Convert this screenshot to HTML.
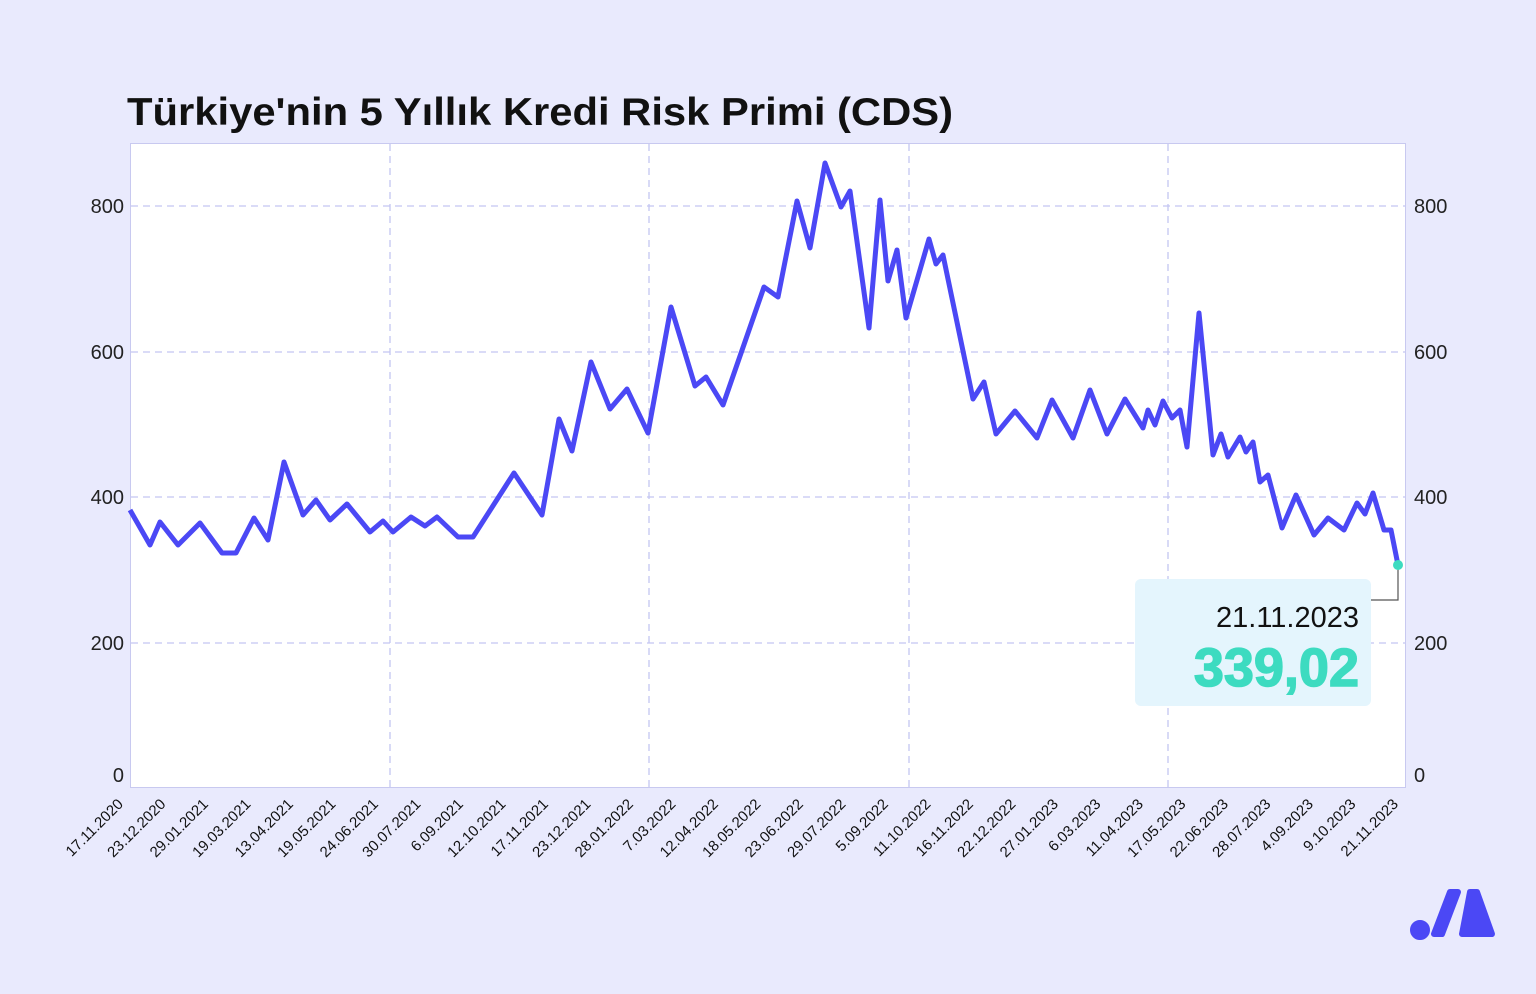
<!DOCTYPE html>
<html><head><meta charset="utf-8"><style>
body{margin:0;background:#e9eafd;width:1536px;height:989px;overflow:hidden;font-family:"Liberation Sans",sans-serif}
</style></head><body>
<svg width="1536" height="989" viewBox="0 0 1536 989" xmlns="http://www.w3.org/2000/svg" font-family="Liberation Sans, sans-serif">
<rect width="1536" height="989" fill="#e9eafd"/>
<text x="127" y="125" font-size="39" font-weight="bold" fill="#111" textLength="826" lengthAdjust="spacingAndGlyphs">Türkiye'nin 5 Yıllık Kredi Risk Primi (CDS)</text>
<rect x="130.5" y="143.5" width="1275" height="644" fill="#fff" stroke="#c8c9f0"/>
<g stroke="#c4c5f2" stroke-width="1.3" stroke-dasharray="7,5">
<line x1="131" y1="206" x2="1405" y2="206"/><line x1="131" y1="352" x2="1405" y2="352"/>
<line x1="131" y1="497" x2="1405" y2="497"/><line x1="131" y1="643" x2="1405" y2="643"/>
<line x1="390" y1="144" x2="390" y2="787"/><line x1="649" y1="144" x2="649" y2="787"/>
<line x1="909" y1="144" x2="909" y2="787"/><line x1="1168" y1="144" x2="1168" y2="787"/>
</g>
<g font-size="20" fill="#222">
<text x="124" y="213" text-anchor="end">800</text><text x="124" y="359" text-anchor="end">600</text>
<text x="124" y="504" text-anchor="end">400</text><text x="124" y="650" text-anchor="end">200</text>
<text x="124" y="782" text-anchor="end">0</text>
<text x="1414" y="213">800</text><text x="1414" y="359">600</text><text x="1414" y="504">400</text>
<text x="1414" y="650">200</text><text x="1414" y="782">0</text>
</g>
<g font-size="15" fill="#111" text-anchor="end">
<text transform="translate(124,805) rotate(-45)">17.11.2020</text>
<text transform="translate(166.5,805) rotate(-45)">23.12.2020</text>
<text transform="translate(209,805) rotate(-45)">29.01.2021</text>
<text transform="translate(251.5,805) rotate(-45)">19.03.2021</text>
<text transform="translate(294,805) rotate(-45)">13.04.2021</text>
<text transform="translate(336.5,805) rotate(-45)">19.05.2021</text>
<text transform="translate(379,805) rotate(-45)">24.06.2021</text>
<text transform="translate(421.5,805) rotate(-45)">30.07.2021</text>
<text transform="translate(464,805) rotate(-45)">6.09.2021</text>
<text transform="translate(506.5,805) rotate(-45)">12.10.2021</text>
<text transform="translate(549,805) rotate(-45)">17.11.2021</text>
<text transform="translate(591.5,805) rotate(-45)">23.12.2021</text>
<text transform="translate(634,805) rotate(-45)">28.01.2022</text>
<text transform="translate(676.5,805) rotate(-45)">7.03.2022</text>
<text transform="translate(719,805) rotate(-45)">12.04.2022</text>
<text transform="translate(761.5,805) rotate(-45)">18.05.2022</text>
<text transform="translate(804,805) rotate(-45)">23.06.2022</text>
<text transform="translate(846.5,805) rotate(-45)">29.07.2022</text>
<text transform="translate(889,805) rotate(-45)">5.09.2022</text>
<text transform="translate(931.5,805) rotate(-45)">11.10.2022</text>
<text transform="translate(974,805) rotate(-45)">16.11.2022</text>
<text transform="translate(1016.5,805) rotate(-45)">22.12.2022</text>
<text transform="translate(1059,805) rotate(-45)">27.01.2023</text>
<text transform="translate(1101.5,805) rotate(-45)">6.03.2023</text>
<text transform="translate(1144,805) rotate(-45)">11.04.2023</text>
<text transform="translate(1186.5,805) rotate(-45)">17.05.2023</text>
<text transform="translate(1229,805) rotate(-45)">22.06.2023</text>
<text transform="translate(1271.5,805) rotate(-45)">28.07.2023</text>
<text transform="translate(1314,805) rotate(-45)">4.09.2023</text>
<text transform="translate(1356.5,805) rotate(-45)">9.10.2023</text>
<text transform="translate(1399,805) rotate(-45)">21.11.2023</text>
</g>
<polyline fill="none" stroke="#4b48f5" stroke-width="5" stroke-linejoin="round" points="130,510 150,545 160,522 178,545 200,523 222,553 236,553 254,518 268,540 284,462 303,515 316,500 330,520 347,504 370,532 383,521 393,532 411,517 425,526 437,517 458,537 473,537 514,473 542,515 559,419 572,451 591,362 610,409 627,389 648,433 671,307 695,386 706,377 723,405 764,287 778,297 797,201 810,248 825,163 841,207 850,191 869,328 880,200 888,281 897,250 906,318 929,239 936,264 943,255 973,399 984,382 996,434 1015,411 1037,438 1052,400 1073,438 1090,390 1107,434 1125,399 1143,428 1148,410 1155,425 1163,401 1172,418 1180,410 1187,447 1199,313 1213,455 1221,434 1228,457 1240,437 1246,452 1253,442 1260,482 1268,475 1282,528 1296,495 1314,535 1328,518 1344,530 1357,503 1365,514 1373,493 1384,530 1391,530 1398,565"/>
<polyline fill="none" stroke="#555" stroke-width="1.2" points="1398,565 1398,600 1371,600"/>
<circle cx="1398" cy="565" r="5" fill="#3ddbc0"/>
<rect x="1135" y="579" width="236" height="127" rx="6" fill="#e4f5fd"/>
<text x="1359" y="627" font-size="29" fill="#111" text-anchor="end">21.11.2023</text>
<text x="1359" y="686" font-size="54" font-weight="bold" fill="#3ddbc0" text-anchor="end" stroke="#3ddbc0" stroke-width="1.5">339,02</text>
<g fill="#4b48f5" stroke="#4b48f5" stroke-width="6" stroke-linejoin="round" stroke-linecap="round">
<circle cx="1420" cy="930" r="7"/>
<path d="M1434,934 L1450,892 L1458,892 L1442,934 Z"/>
<path d="M1462,934 L1470,892 L1477,892 L1492,934 Z"/>
</g>
</svg>
</body></html>
